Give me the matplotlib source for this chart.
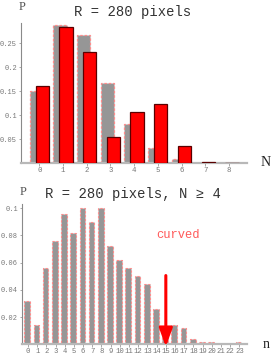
import matplotlib
matplotlib.use("Agg")
import matplotlib.pyplot as plt
import numpy as np

# Top chart data
N_cats = [0, 1, 2, 3, 4, 5, 6, 7, 8]
gray_top = [0.151, 0.288, 0.267, 0.168, 0.082, 0.031, 0.010, 0.001, 0.001]
red_top = [0.161, 0.285, 0.232, 0.055, 0.107, 0.124, 0.037, 0.002, 0.0005]
top_yticks = [0.05, 0.1, 0.15, 0.2, 0.25]
top_yticklabels = ["0.05", "0.1", "0.15", "0.2", "0.25"]

# Bottom chart data
n_cats = list(range(24))
gray_bot = [0.032, 0.014, 0.056, 0.076, 0.096, 0.082, 0.100, 0.090, 0.100, 0.072,
            0.062, 0.056, 0.050, 0.044, 0.026, 0.008, 0.014, 0.012, 0.004, 0.002,
            0.002, 0.0, 0.0003, 0.002]
bot_yticks = [0.02, 0.04, 0.06, 0.08, 0.1]
bot_yticklabels = ["0.02", "0.04", "0.06", "0.08", "0.1"]
arrow_x = 15
arrow_top = 0.0505
arrow_bottom = -0.0017

mono = ["Liberation Mono", "DejaVu Sans Mono"]
serif = ["Liberation Serif", "DejaVu Serif"]
GRAY = "#969696"
PINK = "#ff8c8c"
TICKC = "#777777"

fig = plt.figure(figsize=(2.77, 3.60), dpi=100)

def style_axes(ax):
    for s in ["top", "right"]:
        ax.spines[s].set_visible(False)
    ax.spines["left"].set_color("#8a8a8a")
    ax.spines["left"].set_linewidth(0.8)
    ax.spines["bottom"].set_color("#b8b8b8")
    ax.spines["bottom"].set_linewidth(1.6)
    ax.tick_params(axis="both", direction="out", length=1.8, width=0.6,
                   colors="#9a9a9a", labelcolor=TICKC, pad=1.0)
    ax.set_facecolor("white")

# ---- Top axes
ax1 = fig.add_axes([21 / 277, 1 - 163.3 / 360, (246.7 - 21) / 277, (163.3 - 22.7) / 360])
x = np.array(N_cats, dtype=float)
w = 0.56
ax1.bar(x - 0.127, gray_top, width=w, color=GRAY, edgecolor=PINK,
        linewidth=0.9, linestyle=(0, (2, 1.5)), zorder=2)
ax1.bar(x + 0.127, red_top, width=w, color="#ff0000", edgecolor="#5a0000",
        linewidth=0.9, zorder=3)
ax1.set_xlim(-0.77, 8.75)
ax1.set_ylim(0, 0.293)
ax1.set_xticks(N_cats)
ax1.set_xticklabels([str(v) for v in N_cats], fontsize=5.3, family=mono)
ax1.set_yticks(top_yticks)
ax1.set_yticklabels(top_yticklabels, fontsize=5.0, family=mono)
style_axes(ax1)

# ---- Bottom axes
ax2 = fig.add_axes([22 / 277, 1 - 344.4 / 360, (246.7 - 22) / 277, (344.4 - 204) / 360])
xb = np.array(n_cats, dtype=float)
ax2.bar(xb - 0.08, gray_bot, width=0.62, color=GRAY, edgecolor=PINK,
        linewidth=0.8, linestyle=(0, (2, 1.5)), zorder=2)
ax2.set_xlim(-0.65, 23.8)
ax2.set_ylim(0, 0.103)
ax2.set_xticks(n_cats)
ax2.set_xticklabels([str(v) for v in n_cats], fontsize=5.2, family=mono)
ax2.set_yticks(bot_yticks)
ax2.set_yticklabels(bot_yticklabels, fontsize=5.0, family=mono)
style_axes(ax2)
ax2.annotate("", xy=(arrow_x, arrow_bottom), xytext=(arrow_x, arrow_top),
             arrowprops=dict(arrowstyle="-|>,head_length=1.1,head_width=0.4",
                             color="#ff0000", lw=2.2, shrinkA=0, shrinkB=0),
             annotation_clip=False, zorder=5)
ax2.text(16.3, 0.080, "curved", color="#ff5a5a", fontsize=8.7, family=mono,
         ha="center", va="center")

# ---- Titles and axis letters
fig.text(133 / 277, 1 - 12 / 360, "R = 280 pixels", fontsize=10, family=mono,
         ha="center", va="center", color="#333333")
fig.text(133 / 277, 1 - 194 / 360, "R = 280 pixels, N \u2265 4", fontsize=10,
         family=mono, ha="center", va="center", color="#333333")
fig.text(21.7 / 277, 1 - 7 / 360, "P", fontsize=9, family=serif,
         ha="center", va="center", color="#555555")
fig.text(22.7 / 277, 1 - 192 / 360, "P", fontsize=9, family=serif,
         ha="center", va="center", color="#555555")
fig.text(265.7 / 277, 1 - 162.7 / 360, "N", fontsize=10, family=serif,
         ha="center", va="center", color="#222222")
fig.text(265.7 / 277, 1 - 344 / 360, "n", fontsize=10, family=serif,
         ha="center", va="center", color="#222222")

fig.savefig("out.png", dpi=100)
